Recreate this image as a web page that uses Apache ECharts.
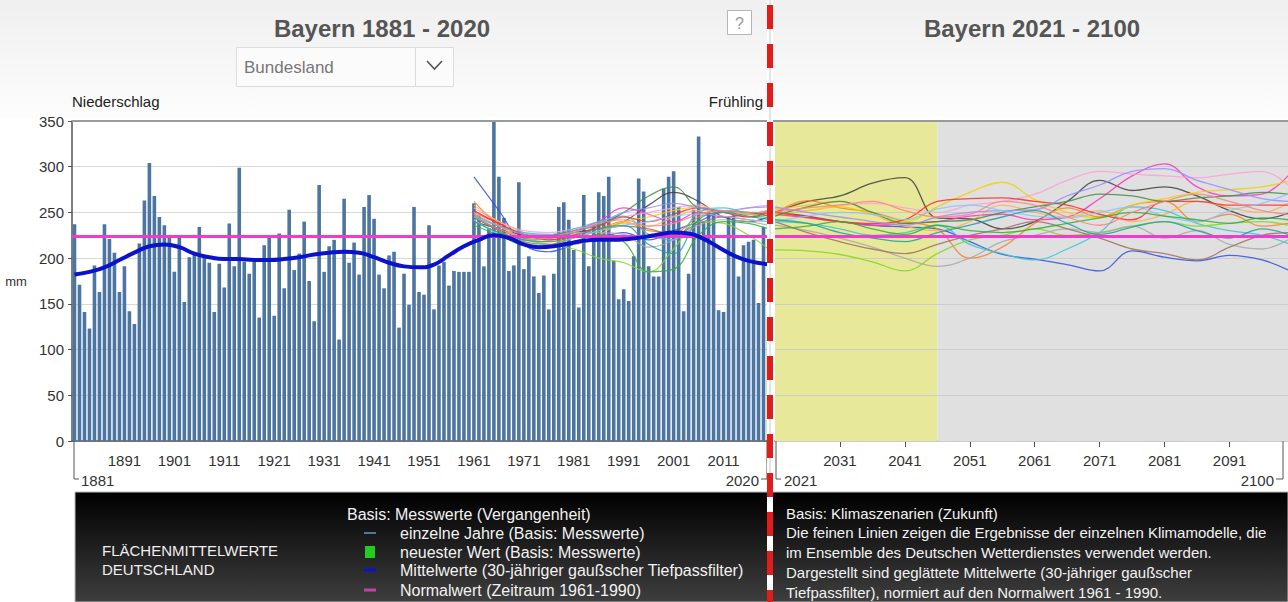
<!DOCTYPE html>
<html><head><meta charset="utf-8">
<script src="https://cdn.jsdelivr.net/npm/echarts@6/dist/echarts.min.js"></script>
<style>html,body{margin:0;padding:0;background:#fff;}#c{width:1288px;height:602px;}</style>
</head><body><div id="c"></div>
<script>
const FONT = '"Liberation Sans", Arial, sans-serif';

// ---- data ----
const firstYear = 1881, lastYear = 2020;
const years = [];
for (let y = firstYear; y <= lastYear; y++) years.push(String(y));

const barValues = [
  237,171,141,123,192,163,237,221,206,163,191,142,128,216,263,304,268,245,236,225,
  185,222,152,201,204,234,203,195,141,194,168,238,191,299,196,183,196,135,214,222,
  137,227,167,253,187,205,240,175,131,280,185,213,220,111,265,195,217,182,256,269,
  243,182,167,203,207,124,183,149,256,163,160,236,144,192,196,170,186,185,185,185,
  260,247,191,233,349,289,244,186,192,283,188,202,180,162,181,144,183,256,261,242,
  209,146,269,191,236,272,268,289,197,155,166,153,202,287,273,191,180,180,276,289,
  295,256,142,183,253,333,240,251,249,143,141,246,247,180,214,218,220,151,234,134
];

const meanYears = [1881,1884,1887,1890,1893,1896,1899,1902,1905,1908,1911,1914,1917,1920,1923,1926,1929,1932,1935,1938,1941,1944,1947,1950,1953,1956,1959,1962,1965,1968,1971,1974,1977,1980,1983,1986,1989,1992,1995,1998,2001,2004,2007,2010,2013,2016,2019,2020];
const meanValues = [182,185,190,198,206,213,215,212,205,201,199,199,198,198,199,201,204,206,207,206,201,195,191,190,193,203,213,220,225,222,215,212,213,216,219,220,220,221,223,226,228,227,221,212,203,197,194,193];

const normalValue = 224;

const pastYears = [1961,1966,1971,1976,1981,1986,1991,1996,2001,2006,2011,2016,2020];
const futureYears = [2021,2026,2031,2036,2041,2046,2051,2056,2061,2066,2071,2076,2081,2086,2091,2096,2100];
const bandYears = [2021, 2046, 2100];

const m01 = [240,232,225,222,228,232,240,258,272,262,245,240,245, 250,262,268,282,288,244,243,232,240,262,285,274,278,268,252,243,249];
const m02 = [289,252,215,207,215,222,228,220,230,240,250,248,250, 250,246,240,236,234,232,218,204,199,193,186,208,201,197,203,198,187];
const m03 = [250,238,226,225,230,240,255,248,240,250,245,248,252, 248,244,240,236,238,240,246,248,242,245,265,290,303,278,268,270,290];
const m04 = [255,240,230,228,232,236,245,250,255,258,250,255,258, 255,252,258,260,255,250,258,262,270,285,295,292,290,288,292,295,280];
const m05 = [262,236,222,220,226,232,240,230,228,245,250,245,247, 249,263,255,250,240,232,200,212,238,255,245,258,262,240,248,235,238];
const m06 = [258,240,228,220,215,225,238,235,245,252,250,248,253, 253,258,262,248,235,230,240,258,250,245,252,240,248,262,255,250,260];
const m07 = [246,235,228,226,232,240,246,226,220,250,255,248,244, 240,238,232,225,228,236,215,205,198,210,228,256,252,238,230,225,216];
const m08 = [240,228,220,215,210,200,195,185,210,240,238,225,210, 209,208,204,196,186,205,220,225,232,225,228,235,240,235,238,240,236];
const m09 = [250,235,222,218,222,230,240,245,252,256,250,248,248, 248,252,256,248,240,256,272,283,264,250,244,258,265,272,275,278,284];
const m10 = [252,238,226,220,225,235,245,240,248,255,250,245,250, 250,245,240,238,242,262,265,266,262,258,248,242,262,262,258,258,258];
const m11 = [248,230,220,222,228,228,226,212,220,236,242,240,236, 236,230,222,212,200,191,200,218,225,232,228,235,222,230,215,210,220];
const m12 = [245,230,218,215,222,230,235,232,226,238,245,242,240, 240,228,218,210,205,215,225,232,240,232,222,210,205,198,212,225,228];
const m13 = [244,232,222,224,230,236,250,268,278,255,252,250,246, 246,256,262,250,238,240,242,250,256,262,270,268,262,266,268,272,270];
const m14 = [248,235,226,222,228,238,250,255,260,255,252,255,256, 256,250,245,240,236,245,250,252,253,268,280,295,298,285,275,265,262];
const m15 = [242,226,216,214,222,230,236,240,246,248,246,242,240, 240,246,250,248,242,254,258,252,246,244,250,256,246,240,252,260,270];
const m16 = [236,225,214,212,218,226,218,185,188,225,240,238,232, 232,235,240,232,226,236,230,228,232,238,244,250,246,242,238,244,242];
const m17 = [240,228,220,218,224,232,236,215,205,242,250,246,242, 242,238,228,222,218,228,236,245,252,238,226,234,240,230,222,232,226];
const m18 = [245,232,224,224,230,238,242,235,238,248,252,250,250, 250,255,258,262,252,245,248,262,258,245,236,250,262,270,262,252,248];

const modelColors = ['#404040','#3050e0','#ff30c0','#ff9fd8','#ff8020','#ffb050','#30c8d8','#80d820','#f0d000',
                     '#ff2a2a','#a8a8a8','#a07060','#3f8f3f','#9a8cff','#80c8ff','#30b030','#20a0a0','#ff8080'];
const models = [m01,m02,m03,m04,m05,m06,m07,m08,m09,m10,m11,m12,m13,m14,m15,m16,m17,m18];

const yTicks = [0, 350, 50];

// ---- chart ----
const chart = echarts.init(document.getElementById('c'), null, {renderer: 'svg'});

const series = [];
series.push({
  type: 'bar', xAxisIndex: 0, yAxisIndex: 0, barCategoryGap: '28%', z: 2,
  itemStyle: {color: '#4d75a2'},
  data: barValues.map((v, i) => i === barValues.length - 1 ? {value: v, itemStyle: {color: '#2fc02f'}} : v)
});
models.forEach((m, k) => {
  series.push({
    type: 'line', xAxisIndex: 1, yAxisIndex: 0, smooth: 0.4, symbol: 'none', z: 3, silent: true,
    lineStyle: {width: 1.2, color: modelColors[k], opacity: 0.85},
    data: pastYears.map((y, i) => [y, m[i]])
  });
});
series.push({
  type: 'line', xAxisIndex: 1, yAxisIndex: 0, smooth: 0.5, symbol: 'none', z: 6, silent: true,
  lineStyle: {width: 4, color: '#0a12cc'},
  data: meanYears.map((y, i) => [y, meanValues[i]]),
  markLine: {silent: true, symbol: ['none','none'], label: {show: false}, z: 5,
    lineStyle: {color: '#f03ccc', width: 3, type: 'solid'}, data: [{yAxis: normalValue}]}
});
// right panel background bands
series.push({
  type: 'line', xAxisIndex: 2, yAxisIndex: 1, z: 1, symbol: 'none', silent: true,
  lineStyle: {opacity: 0},
  data: futureYears.map(y => [y - bandYears[0], null]),
  markArea: {silent: true, data: [
    [{xAxis: bandYears[0] - bandYears[0], itemStyle: {color: '#e8e89a'}}, {xAxis: bandYears[1] - bandYears[0]}],
    [{xAxis: bandYears[1] - bandYears[0], itemStyle: {color: '#e0e0e0'}}, {xAxis: bandYears[2] - bandYears[0]}]
  ]}
});
models.forEach((m, k) => {
  series.push({
    type: 'line', xAxisIndex: 2, yAxisIndex: 1, smooth: 0.4, symbol: 'none', z: 3, silent: true,
    lineStyle: {width: 1.3, color: modelColors[k], opacity: 0.85},
    data: futureYears.map((y, i) => [y - futureYears[0], m[pastYears.length + i]])
  });
});
series.push({
  type: 'line', xAxisIndex: 2, yAxisIndex: 1, z: 6, symbol: 'none', silent: true,
  lineStyle: {opacity: 0},
  data: futureYears.map(y => [y - futureYears[0], null]),
  markLine: {silent: true, symbol: ['none','none'], label: {show: false},
    lineStyle: {color: '#f03ccc', width: 3, type: 'solid'}, data: [{yAxis: normalValue}]}
});

const txt = (text, x, y, opt, z) => ({type: 'text', x: x, y: y, z: z || 50, silent: true,
  style: Object.assign({text: text, fill: '#333', font: '15px ' + FONT, align: 'left', textAlign: 'left',
    verticalAlign: 'middle', textVerticalAlign: 'middle'}, opt || {})});
const al = (a) => ({align: a, textAlign: a});
const LG = {font: '16px ' + FONT, fill: '#f2f2f2'};
const LGR = {font: '15px ' + FONT, fill: '#f2f2f2'};

const graphic = [
  {type: 'rect', z: -5, silent: true, shape: {x: 0, y: 0, width: 1288, height: 118},
    style: {fill: new echarts.graphic.LinearGradient(0, 0, 0, 1, [{offset: 0, color: '#efefef'}, {offset: 1, color: '#fdfdfd'}])}},
  txt('Bayern 1881 - 2020', 382, 28, Object.assign({font: 'bold 24px ' + FONT, fill: '#555'}, al('center'))),
  txt('Bayern 2021 - 2100', 1032, 28, Object.assign({font: 'bold 24px ' + FONT, fill: '#555'}, al('center'))),
  {type: 'rect', z: 40, silent: true, shape: {x: 236.5, y: 47.5, width: 179, height: 39}, style: {fill: '#fbfbfb', stroke: '#dcdcdc', lineWidth: 1}},
  {type: 'rect', z: 40, silent: true, shape: {x: 415.5, y: 47.5, width: 38, height: 39}, style: {fill: '#fbfbfb', stroke: '#dcdcdc', lineWidth: 1}},
  txt('Bundesland', 244, 67, {font: '17px ' + FONT, fill: '#777'}),
  {type: 'polyline', z: 41, silent: true, shape: {points: [[427, 61], [434.5, 69], [442, 61]]}, style: {stroke: '#555', lineWidth: 1.6, fill: null}},
  {type: 'rect', z: 40, silent: true, shape: {x: 727.5, y: 10.5, width: 24, height: 24}, style: {fill: '#fff', stroke: '#b5b5b5', lineWidth: 1}},
  txt('?', 739.5, 23, Object.assign({font: '16px ' + FONT, fill: '#999'}, al('center'))),
  txt('Niederschlag', 72, 101, {font: '15px ' + FONT, fill: '#222'}),
  txt('Frühling', 763, 101, Object.assign({font: '15px ' + FONT, fill: '#222'}, al('right'))),
  txt('mm', 16, 281, Object.assign({font: '13px ' + FONT, fill: '#333'}, al('center'))),
  {type: 'line', z: 45, silent: true, shape: {x1: 72, y1: 121, x2: 1288, y2: 121}, style: {stroke: '#9a9a9a', lineWidth: 2}},
  // second-row year labels
  {type: 'polyline', z: 45, silent: true, shape: {points: [[74, 441], [74, 479], [79, 479]]}, style: {stroke: '#555', lineWidth: 1, fill: null}},
  txt('1881', 81, 480, {fill: '#333'}),
  {type: 'polyline', z: 45, silent: true, shape: {points: [[761, 479], [767, 479], [767, 441]]}, style: {stroke: '#555', lineWidth: 1, fill: null}},
  txt('2020', 759, 480, Object.assign({fill: '#333'}, al('right'))),
  {type: 'polyline', z: 45, silent: true, shape: {points: [[776, 441], [776, 479], [781, 479]]}, style: {stroke: '#555', lineWidth: 1, fill: null}},
  txt('2021', 784, 480, {fill: '#333'}),
  {type: 'polyline', z: 45, silent: true, shape: {points: [[1276, 479], [1283, 479], [1283, 441]]}, style: {stroke: '#555', lineWidth: 1, fill: null}},
  txt('2100', 1274, 480, Object.assign({fill: '#333'}, al('right'))),
  // legend panel
  {type: 'rect', z: 60, silent: true, shape: {x: 75, y: 492, width: 1213, height: 110},
    style: {fill: new echarts.graphic.LinearGradient(0, 0, 0, 1, [{offset: 0, color: '#000'}, {offset: 1, color: '#3e3e3e'}]), stroke: '#bbb', lineWidth: 1}},
  txt('FLÄCHENMITTELWERTE', 102, 550, {font: '15px ' + FONT, fill: '#eee'}, 65),
  txt('DEUTSCHLAND', 102, 569, {font: '15px ' + FONT, fill: '#eee'}, 65),
  txt('Basis: Messwerte (Vergangenheit)', 347, 514, LG, 65),
  {type: 'line', z: 65, silent: true, shape: {x1: 364, y1: 533, x2: 376, y2: 533}, style: {stroke: '#4d75a2', lineWidth: 2}},
  txt('einzelne Jahre (Basis: Messwerte)', 400, 533, LG, 65),
  {type: 'rect', z: 65, silent: true, shape: {x: 365, y: 546, width: 10, height: 12}, style: {fill: '#22cc22'}},
  txt('neuester Wert (Basis: Messwerte)', 400, 552, LG, 65),
  {type: 'line', z: 65, silent: true, shape: {x1: 364, y1: 570, x2: 376, y2: 570}, style: {stroke: '#1010cc', lineWidth: 3}},
  txt('Mittelwerte (30-jähriger gaußscher Tiefpassfilter)', 400, 570, LG, 65),
  {type: 'line', z: 65, silent: true, shape: {x1: 364, y1: 590, x2: 376, y2: 590}, style: {stroke: '#c040b0', lineWidth: 3}},
  txt('Normalwert (Zeitraum 1961-1990)', 400, 590, LG, 65),
  txt('Basis: Klimaszenarien (Zukunft)', 786, 513, LGR, 65),
  txt('Die feinen Linien zeigen die Ergebnisse der einzelnen Klimamodelle, die', 786, 532, LGR, 65),
  txt('im Ensemble des Deutschen Wetterdienstes verwendet werden.', 786, 552, LGR, 65),
  txt('Dargestellt sind geglättete Mittelwerte (30-jähriger gaußscher', 786, 572, LGR, 65),
  txt('Tiefpassfilter), normiert auf den Normalwert 1961 - 1990.', 786, 592, LGR, 65),
  // red dashed divider
  {type: 'line', z: 90, silent: true, shape: {x1: 770, y1: 0, x2: 770, y2: 602}, style: {stroke: '#ffffff', lineWidth: 6}},
  {type: 'line', z: 91, silent: true, shape: {x1: 770, y1: 0, x2: 770, y2: 492}, style: {stroke: '#c8c8c8', lineWidth: 1}},
  {type: 'line', z: 92, silent: true, shape: {x1: 770, y1: 5, x2: 770, y2: 602}, style: {stroke: '#e21b1b', lineWidth: 6, lineDash: [24, 15]}}
];

const axisText = {fontSize: 15, color: '#333', fontFamily: FONT};
const yearTick = (i) => i > 0 && i % 10 === 0;

chart.setOption({
  animation: false,
  backgroundColor: '#ffffff',
  textStyle: {fontFamily: FONT},
  grid: [
    {left: 72, top: 121, width: 699, height: 320},
    {left: 775, top: 121, width: 513, height: 320}
  ],
  xAxis: [
    {type: 'category', gridIndex: 0, data: years, boundaryGap: true,
      axisLine: {lineStyle: {color: '#555', width: 1.5}},
      axisTick: {interval: yearTick, length: 6, lineStyle: {color: '#555'}},
      axisLabel: Object.assign({interval: yearTick, margin: 12}, axisText),
      splitLine: {show: false}},
    {type: 'value', gridIndex: 0, min: firstYear - 0.5, max: lastYear + 0.5, show: false},
    {type: 'value', gridIndex: 1, min: 0, max: futureYears[futureYears.length - 1] - futureYears[0], interval: 10,
      axisLine: {lineStyle: {color: '#555', width: 1.5}},
      axisTick: {length: 6, lineStyle: {color: '#555'}},
      axisLabel: Object.assign({margin: 12, showMinLabel: false, showMaxLabel: false,
        formatter: v => String(futureYears[0] + v)}, axisText),
      splitLine: {show: false}}
  ],
  yAxis: [
    {type: 'value', gridIndex: 0, min: yTicks[0], max: yTicks[1], interval: yTicks[2],
      axisLine: {show: true, lineStyle: {color: '#555', width: 1.5}},
      axisTick: {show: true, length: 4, lineStyle: {color: '#555'}},
      axisLabel: Object.assign({margin: 8}, axisText),
      splitLine: {lineStyle: {color: '#d9d9d9'}}},
    {type: 'value', gridIndex: 1, min: yTicks[0], max: yTicks[1], interval: yTicks[2], z: 1.5,
      axisLine: {show: false}, axisTick: {show: false}, axisLabel: {show: false},
      splitLine: {lineStyle: {color: '#cdcdcd'}}}
  ],
  series: series,
  graphic: {elements: graphic}
});
</script></body></html>
